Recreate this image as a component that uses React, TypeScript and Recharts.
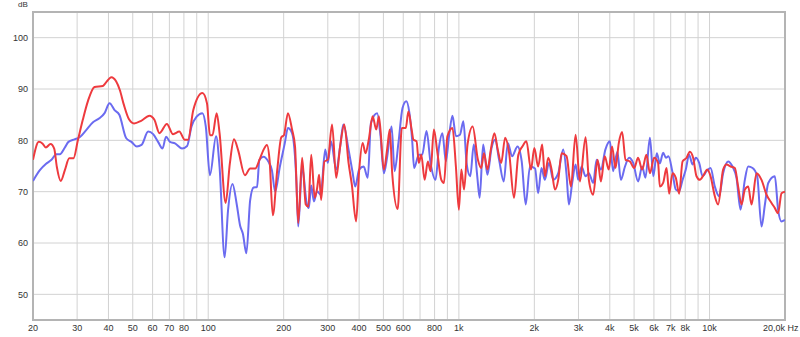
import React from 'react';
import { CartesianGrid, Line, LineChart, ReferenceArea, XAxis, YAxis } from 'recharts';

// frequency response, two measurements (Hz / dB)
const redFreq = [
  20, 21.1, 21.8, 22.5, 23.5, 24.3, 24.9, 25.8, 26.8, 27.9, 29.0, 30.2, 31.6, 33.1, 35.2, 38.0, 39.0, 41.1, 42.9, 44.4,
  46.1, 48.3, 50.6, 54, 58.3, 61, 63.9, 68.4, 72.4, 76.7, 80.6, 83.1, 87.2, 94.8, 98.9, 101.6, 104, 108.1, 111, 117.4,
  122, 126.7, 131.6, 140.1, 147, 154, 161, 166, 171.5, 175.7, 181, 188.5, 195.7, 200.5, 208, 216, 222, 228.6, 237, 245,
  251, 257.6, 266, 272, 277, 282, 291, 300, 312, 324, 336, 349, 363, 374, 389, 400, 413, 424, 437, 453,
  468, 480, 502, 518, 530, 542, 570, 592, 614, 629, 648, 659, 678, 692, 708, 730, 752, 771, 795, 820,
  851, 872, 900, 943, 973, 1000, 1023, 1049, 1083, 1135, 1191, 1228, 1259, 1300, 1341, 1386, 1429, 1475, 1530, 1587,
  1659, 1727, 1792, 1860, 1939, 2000, 2071, 2149, 2203, 2273, 2344, 2417, 2491, 2570, 2689, 2799, 2922, 3040, 3203, 3300,
  3434, 3576, 3686, 3818, 3961, 4085, 4214, 4346, 4480, 4623, 4810, 5004, 5187, 5386, 5600, 5783, 6010, 6233, 6334, 6530,
  6738, 6901, 7116, 7336, 7563, 7805, 8096, 8346, 8602, 8873, 9148, 9490, 9780, 10092, 10500, 10820, 11330, 11690, 12130, 12620,
  13000, 13420, 13830, 14260, 14710, 15400, 16120, 16880, 17670, 18220, 18770, 19370, 20000,
];
const redDb = [
  76.2, 79.7, 79.4, 78.6, 79.3, 78.4, 74.8, 72.1, 74.2, 76.5, 76.5, 80, 84, 87.6, 90.4, 90.6, 91.2, 92.3, 91.5, 89.8,
  86.9, 84.1, 83.3, 83.8, 84.8, 84, 81.4, 83.2, 81.2, 81.7, 80.1, 80.1, 85.9, 89.2, 87.2, 81, 81, 85.3, 81.4, 67.8,
  75.5, 80.2, 78.1, 73.2, 74.5, 74.5, 76.5, 78.1, 79.1, 76.2, 65.4, 74.2, 80.6, 81, 85.3, 82.1, 78.8, 63.9, 76.6, 67.5,
  67.1, 77.2, 68.8, 70.7, 73.3, 68.4, 75.9, 76.2, 83.1, 72.7, 78.8, 83.1, 75.6, 71.4, 64.2, 74, 79.5, 77.5, 80.1, 84.7,
  82.1, 84.7, 74.3, 78.5, 82.1, 73.6, 66.6, 82.4, 82.4, 85.6, 82.1, 80.1, 79.8, 75.6, 77.2, 72.3, 75.9, 74, 82.1, 77.8,
  72.3, 71.7, 80.8, 82.4, 74.9, 66.5, 74.3, 70.4, 79.2, 82.7, 76.2, 74.6, 77.5, 74.3, 78.2, 81.4, 78.2, 75.6, 80.5, 77.5,
  68.8, 77.2, 78.8, 79.8, 74.3, 78.5, 74.9, 79.2, 73, 76.6, 74.3, 70.4, 72.3, 77.5, 76.9, 71, 81.1, 72, 80.6, 72.3,
  69.4, 76.2, 72, 76.9, 74.3, 78.8, 74.6, 79.5, 81.6, 76.2, 75.9, 74.6, 76.6, 74.3, 77.2, 73.6, 76.6, 75.6, 71, 71.7,
  74.6, 69.6, 73.6, 72.7, 69.6, 75.9, 76.6, 77.8, 76.6, 73, 72.3, 73.3, 74.3, 73, 69.1, 67.5, 74.3, 75.3, 74.9, 74.6,
  71, 67.5, 70.4, 71, 67.5, 73.6, 72.3, 69.4, 67.8, 66.8, 65.8, 69.7, 70,
];

const blueFreq = [
  20, 21.3, 22.5, 23.7, 24.8, 25.6, 26.8, 27.7, 29.3, 30.7, 32.6, 34.7, 36.8, 38.6, 40.4, 42.3, 44.2, 47.1, 49.4, 51.9,
  54.2, 57.6, 60.3, 63.1, 65.7, 67.9, 70.4, 73.7, 78.6, 82.4, 85.8, 89.9, 94.8, 97.8, 101.6, 107.5, 111, 116.3, 120, 125,
  129.8, 134, 137.5, 142, 147, 151.7, 156.6, 160, 166, 174, 179.5, 185, 193, 202, 208, 216, 225, 228.6, 237, 247,
  252, 257.6, 264, 272, 281, 293, 300, 309, 324, 336, 346, 363, 376, 386, 400, 417, 433, 446, 472, 487,
  502, 518, 539, 554, 574, 596, 617, 635, 651, 663, 692, 714, 743, 771, 807, 832, 860, 887, 915, 943,
  973, 1010, 1042, 1075, 1110, 1147, 1184, 1210, 1250, 1300, 1350, 1395, 1447, 1510, 1568, 1630, 1714, 1781, 1848, 1921,
  2014, 2071, 2136, 2203, 2287, 2380, 2491, 2608, 2689, 2747, 2832, 2922, 2992, 3087, 3203, 3300, 3434, 3545, 3686, 3841,
  4004, 4123, 4288, 4427, 4599, 4775, 4958, 5187, 5386, 5550, 5783, 5966, 6160, 6334, 6530, 6700, 6860, 7100, 7336, 7563,
  7805, 8040, 8290, 8550, 8820, 9090, 9380, 9730, 10092, 10500, 10920, 11330, 11860, 12350, 12810, 13290, 13830, 14260, 14850, 15490,
  16120, 16630, 17150, 18220, 18770, 19370, 20000,
];
const blueDb = [
  72.1, 74.2, 75.4, 76.2, 77.3, 77.3, 78.6, 79.7, 80.2, 80.6, 82, 83.5, 84.3, 85.3, 87.2, 85.9, 85, 80.4, 79.7, 78.8,
  79.1, 81.7, 81.2, 79.7, 78.4, 80.7, 79.7, 79.4, 78.4, 78.9, 82.7, 84.6, 85.3, 82.7, 73.2, 80.8, 74.8, 57.2, 66.4, 71.5,
  67.7, 63.4, 61.8, 58, 68.3, 70.8, 70.9, 76.2, 76.8, 75.8, 74.2, 70, 74.8, 79.4, 82.4, 81.4, 71.7, 63.2, 74.9, 67.8,
  66.8, 71.2, 68.1, 70.1, 69.4, 78.2, 75.6, 79.8, 74.3, 78.8, 83.1, 78.2, 74, 71, 74.3, 74.9, 72.7, 83.4, 85.3, 80.8,
  73.6, 76.9, 82.7, 74, 79.5, 86.3, 87.6, 85.3, 80.1, 74.6, 77.2, 77.2, 81.8, 75.6, 72.3, 78.5, 81.4, 75.9, 81.1, 84.8,
  80.8, 81.1, 83.7, 75.3, 73, 79.2, 73, 68.8, 79.2, 73.3, 78.5, 80.1, 76.2, 72, 79.5, 76.9, 78.8, 75.9, 67.5, 74.9,
  74.5, 69.7, 74.6, 72.3, 75.6, 72.3, 73.6, 78.2, 73.3, 67.5, 71.7, 75.3, 72.3, 74.9, 73, 73.6, 71.7, 76.2, 74.3, 78.2,
  79.8, 74, 77.8, 72.3, 74.9, 76.6, 75.6, 72, 74.9, 72.7, 80.5, 73, 77.5, 75.5, 77.6, 76.6, 76.9, 74, 70.4, 70.1,
  72.3, 74.3, 77.2, 75.3, 76.6, 75.6, 73, 74, 74.6, 71, 69.1, 73.6, 75.9, 74.9, 72.7, 66.5, 72.3, 74.9, 74.6, 73,
  63.2, 67.5, 71.7, 73, 66.5, 64.2, 64.5,
];

const xTicks = [20, 30, 40, 50, 60, 70, 80, 90, 100, 200, 300, 400, 500, 600, 700, 800, 900, 1000,
  2000, 3000, 4000, 5000, 6000, 7000, 8000, 9000, 10000, 20000];
const xLabels = ['20', '30', '40', '50', '60', '70', '80', '', '100', '200', '300', '400', '500', '600', '', '800', '', '1k',
  '2k', '3k', '4k', '5k', '6k', '7k', '8k', '', '10k', '20,0k Hz'];
const yTicks = [50, 60, 70, 80, 90, 100];

const redData = redFreq.map((f, i) => ({ f, db: redDb[i] }));
const blueData = blueFreq.map((f, i) => ({ f, db: blueDb[i] }));

const XTick = (props: any) => {
  const { x, y, payload } = props;
  const idx = xTicks.indexOf(payload.value);
  const label = idx >= 0 ? xLabels[idx] : '';
  // last label does not fit centred, push it left like the original
  const last = payload.value === 20000;
  return (
    <text
      x={last ? x - 22 : x}
      y={y}
      dy="0.71em"
      textAnchor={last ? 'start' : 'middle'}
      fill="#333"
      fontSize={9}
    >
      {label}
    </text>
  );
};

export default function App() {
  return (
    <div
      style={{
        position: 'absolute',
        left: 0,
        top: 0,
        width: 800,
        height: 337,
        background: '#fff',
        fontFamily: '"Liberation Sans", Arial, sans-serif',
      }}
    >
      <div style={{ position: 'absolute', left: 18, top: 0, fontSize: 8, color: '#333' }}>dB</div>
      <LineChart width={800} height={337} margin={{ top: 12, right: 15, left: 0, bottom: 0 }}>
        <CartesianGrid stroke="#d2d2d2" />
        <XAxis
          type="number"
          dataKey="f"
          scale="log"
          domain={[20, 20000]}
          ticks={xTicks}
          interval={0}
          allowDataOverflow
          axisLine={false}
          tickLine={false}
          tickSize={0}
          tickMargin={5}
          height={17}
          tick={XTick}
        />
        <YAxis
          type="number"
          domain={[45, 105]}
          ticks={yTicks}
          allowDataOverflow
          width={33}
          axisLine={false}
          tickLine={false}
          tickSize={0}
          tickMargin={5}
          tick={{ fill: '#333', fontSize: 9 }}
        />
        <ReferenceArea x1={20} x2={20000} y1={45} y2={105} fill="none" stroke="#b4b4b4" strokeWidth={2} ifOverflow="visible" />
        <Line data={blueData} dataKey="db" type="monotone" stroke="#6b6bf0" strokeWidth={2} dot={false} isAnimationActive={false} />
        <Line data={redData} dataKey="db" type="monotone" stroke="#ee3a3e" strokeWidth={2} dot={false} isAnimationActive={false} />
      </LineChart>
    </div>
  );
}
